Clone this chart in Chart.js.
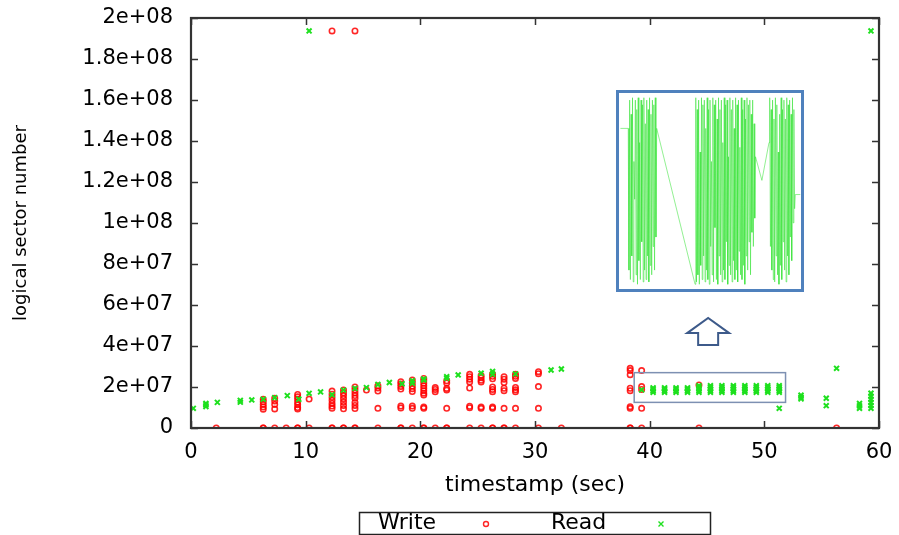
<!DOCTYPE html>
<html>
<head>
<meta charset="utf-8">
<script src="https://cdn.jsdelivr.net/npm/chart.js@4.4.1/dist/chart.umd.min.js"></script>
<style>
  html, body { margin: 0; padding: 0; background: #fff; }
  #wrap { position: relative; width: 899px; height: 535px; }
  #zoomBox { position: absolute; left: 616px; top: 90px; width: 182px; height: 196px;
             border: 3px solid #4f81bd; background: #fff; }
  #zoomBox canvas { display: block; }
</style>
</head>
<body>
<div id="wrap">
  <canvas id="main" width="899" height="535"></canvas>
  <div id="zoomBox"><canvas id="zoom" width="182" height="196"></canvas></div>
</div>
<script>
// --- data (timestamp in sec, logical sector number) ---
const writeT = [
  2.2, 6.3, 6.3, 7.3, 8.3, 9.3, 9.3, 10.3, 12.3, 12.3, 13.3, 13.3, 14.3, 14.3, 16.3, 18.3, 18.3, 19.3,
  20.3, 20.3, 21.3, 22.3, 22.3, 24.3, 25.3, 26.3, 26.3, 27.3, 27.3, 28.3, 30.3, 32.3, 38.3, 38.3, 39.3, 44.3, 56.3,
  6.3, 6.3, 6.3, 6.3, 6.3,
  7.3, 7.3, 7.3, 7.3,
  9.3, 9.3, 9.3, 9.3, 9.3, 9.3, 9.3,
  10.3,
  12.3, 12.3, 12.3, 12.3, 12.3, 12.3, 12.3,
  13.3, 13.3, 13.3, 13.3, 13.3, 13.3, 13.3,
  14.3, 14.3, 14.3, 14.3, 14.3, 14.3, 14.3, 14.3,
  15.3,
  16.3, 16.3, 16.3, 16.3,
  18.3, 18.3, 18.3, 18.3, 18.3, 18.3,
  19.3, 19.3, 19.3, 19.3, 19.3, 19.3, 19.3,
  20.3, 20.3, 20.3, 20.3, 20.3, 20.3, 20.3, 20.3, 20.3, 20.3,
  21.3, 21.3, 21.3,
  22.3, 22.3, 22.3, 22.3, 22.3,
  24.3, 24.3, 24.3, 24.3, 24.3, 24.3, 24.3,
  25.3, 25.3, 25.3, 25.3, 25.3, 25.3,
  26.3, 26.3, 26.3, 26.3, 26.3, 26.3, 26.3, 26.3,
  27.3, 27.3, 27.3, 27.3, 27.3, 27.3,
  28.3, 28.3, 28.3, 28.3, 28.3, 28.3, 28.3,
  30.3, 30.3, 30.3, 30.3,
  38.3, 38.3, 38.3, 38.3, 38.3, 38.3, 38.3,
  39.3, 39.3, 39.3, 39.3,
  44.3,
  12.3, 14.3
];
const writeV = [
  0, 0, 0, 0, 0, 0, 0, 0, 0, 0, 0, 0, 0, 0, 0, 0, 0, 0,
  0, 0, 0, 0, 0, 0, 0, 0, 0, 0, 0, 0, 0, 0, 0, 0, 0, 0, 0,
  14.0e6, 12.8e6, 11.5e6, 10.3e6, 9.2e6,
  14.5e6, 13.2e6, 11.5e6, 9.3e6,
  16.4e6, 15.2e6, 14.0e6, 12.6e6, 11.3e6, 10.0e6, 9.3e6,
  14.1e6,
  18.0e6, 16.5e6, 15.0e6, 13.5e6, 12.0e6, 10.7e6, 9.6e6,
  18.5e6, 17.2e6, 15.8e6, 14.3e6, 12.7e6, 11.0e6, 9.4e6,
  20.0e6, 18.6e6, 17.2e6, 15.8e6, 14.5e6, 12.5e6, 11.0e6, 9.5e6,
  18.5e6,
  20.6e6, 19.5e6, 18.0e6, 9.6e6,
  22.6e6, 21.5e6, 20.3e6, 19.0e6, 10.7e6, 9.8e6,
  23.4e6, 22.0e6, 20.5e6, 19.2e6, 17.8e6, 10.7e6, 9.6e6,
  24.2e6, 23.0e6, 21.8e6, 20.6e6, 19.4e6, 18.2e6, 17.0e6, 16.1e6, 10.2e6, 9.6e6,
  19.7e6, 18.8e6, 17.7e6,
  23.0e6, 22.0e6, 19.3e6, 18.5e6, 9.6e6,
  26.2e6, 25.0e6, 23.8e6, 22.5e6, 19.5e6, 10.6e6, 9.9e6,
  25.6e6, 24.5e6, 23.3e6, 22.4e6, 10.3e6, 9.6e6,
  26.3e6, 25.2e6, 24.0e6, 20.0e6, 18.8e6, 17.7e6, 10.3e6, 9.6e6,
  25.0e6, 23.8e6, 22.2e6, 19.4e6, 18.2e6, 9.6e6,
  26.2e6, 25.2e6, 24.2e6, 19.8e6, 18.6e6, 17.7e6, 9.6e6,
  27.5e6, 26.5e6, 20.2e6, 9.6e6,
  29.1e6, 28.0e6, 26.0e6, 19.4e6, 18.2e6, 10.4e6, 9.6e6,
  28.0e6, 20.2e6, 18.8e6, 9.6e6,
  21.0e6,
  193.7e6, 193.7e6
];

const readT = [
  0.2, 1.3, 1.3, 1.3, 2.3, 4.3, 4.3, 5.3, 6.3, 7.3, 8.4, 9.4, 10.3, 11.3, 12.3, 13.3, 14.3, 15.3,
  16.3, 17.3, 18.4, 19.3, 19.3, 20.3, 20.3, 22.3, 22.3, 23.3, 25.3, 26.3, 26.3, 28.3, 31.4, 32.3,
  39.3,
  40.3, 40.3, 40.3, 40.3, 41.3, 41.3, 41.3, 41.3, 42.3, 42.3, 42.3, 42.3, 43.3, 43.3, 43.3, 43.3,
  44.3, 44.3, 44.3, 44.3, 44.3, 45.3, 45.3, 45.3, 45.3, 45.3, 46.3, 46.3, 46.3, 46.3, 46.3,
  47.3, 47.3, 47.3, 47.3, 47.3, 48.3, 48.3, 48.3, 48.3, 48.3, 49.3, 49.3, 49.3, 49.3, 49.3,
  50.3, 50.3, 50.3, 50.3, 50.3, 51.3, 51.3, 51.3, 51.3, 51.3, 51.3,
  53.2, 53.2, 53.2, 55.4, 55.4, 56.3, 58.3, 58.3, 58.3,
  59.3, 59.3, 59.3, 59.3, 59.3, 59.3,
  10.3, 59.3
];
const readV = [
  9.6e6, 10.5e6, 11.3e6, 12.0e6, 12.5e6, 12.6e6, 13.5e6, 13.7e6, 14.0e6, 14.8e6, 15.8e6, 14.0e6,
  16.9e6, 17.6e6, 16.2e6, 18.5e6, 19.3e6, 19.7e6,
  21.2e6, 22.2e6, 21.6e6, 23.1e6, 21.8e6, 23.9e6, 23.4e6, 25.0e6, 24.2e6, 25.9e6, 26.7e6, 27.6e6, 26.2e6,
  26.4e6, 28.3e6, 28.8e6,
  18.6e6,
  17.4e6, 18.2e6, 19.0e6, 19.6e6, 17.4e6, 18.2e6, 19.0e6, 19.6e6, 17.4e6, 18.2e6, 19.0e6, 19.6e6,
  17.4e6, 18.2e6, 19.0e6, 19.6e6,
  17.4e6, 18.2e6, 19.0e6, 19.8e6, 20.6e6, 17.4e6, 18.2e6, 19.0e6, 19.8e6, 20.6e6,
  17.4e6, 18.2e6, 19.0e6, 19.8e6, 20.6e6, 17.4e6, 18.2e6, 19.0e6, 19.8e6, 20.6e6,
  17.4e6, 18.2e6, 19.0e6, 19.8e6, 20.6e6, 17.4e6, 18.2e6, 19.0e6, 19.8e6, 20.6e6,
  17.4e6, 18.2e6, 19.0e6, 19.8e6, 20.6e6, 17.4e6, 18.2e6, 19.0e6, 19.8e6, 20.6e6, 9.6e6,
  16.0e6, 15.0e6, 14.2e6, 14.5e6, 10.9e6, 29.1e6, 12.0e6, 10.8e6, 9.6e6,
  17.0e6, 15.5e6, 14.0e6, 12.5e6, 11.0e6, 9.6e6,
  193.7e6, 193.7e6
];

// zoomed-in read trace (inset), sector in units of 1e6
const insetT = [
  39.00,
  39.55, 39.60, 39.65, 39.70, 39.75, 39.80, 39.85, 39.90, 39.95, 40.00, 40.05, 40.10, 40.15, 40.20,
  40.25, 40.30, 40.35, 40.40, 40.45, 40.50, 40.55, 40.60, 40.65, 40.70, 40.75, 40.80, 40.85, 40.90,
  40.95, 41.00, 41.05, 41.10, 41.15, 41.20, 41.25, 41.30, 41.35, 41.40, 41.45, 41.50, 41.55,
  44.25,
  44.30, 44.35, 44.40, 44.45, 44.50, 44.55, 44.60, 44.65, 44.70, 44.75, 44.80, 44.85, 44.90, 44.95,
  45.00, 45.05, 45.10, 45.15, 45.20, 45.25, 45.30, 45.35, 45.40, 45.45, 45.50, 45.55, 45.60, 45.65,
  45.70, 45.75, 45.80, 45.85, 45.90, 45.95, 46.00, 46.05, 46.10, 46.15, 46.20, 46.25, 46.30, 46.35,
  46.40, 46.45, 46.50, 46.55, 46.60, 46.65, 46.70, 46.75, 46.80, 46.85, 46.90, 46.95, 47.00, 47.05,
  47.10, 47.15, 47.20, 47.25, 47.30, 47.35, 47.40, 47.45, 47.50, 47.55, 47.60, 47.65, 47.70, 47.75,
  47.80, 47.85, 47.90, 47.95, 48.00, 48.05, 48.10, 48.15, 48.20, 48.25, 48.30, 48.35, 48.40, 48.45,
  48.50,
  48.95, 49.45,
  49.50, 49.55, 49.60, 49.65, 49.70, 49.75, 49.80, 49.85, 49.90, 49.95, 50.00, 50.05, 50.10, 50.15,
  50.20, 50.25, 50.30, 50.35, 50.40, 50.45, 50.50, 50.55, 50.60, 50.65, 50.70, 50.75, 50.80, 50.85,
  50.90, 50.95, 51.00, 51.05, 51.10, 51.15, 51.20, 51.25, 51.30, 51.65
];
const insetV = [
  20.3,
  20.3, 17.3, 20.9, 17.1, 20.6, 17.6, 20.95, 17.05, 19.6, 18.8, 20.9, 17.2, 20.7, 17.0,
  20.95, 17.5, 20.0, 17.1, 20.9, 17.9, 20.8, 17.05, 20.95, 17.3, 20.4, 17.1, 20.9, 17.6,
  20.7, 17.05, 20.95, 17.4, 20.6, 17.2, 20.9, 17.8, 20.8, 17.3, 20.95, 18.0, 20.3,
  17.0,
  20.95, 17.05, 20.7, 17.2, 20.9, 17.0, 19.8, 17.4, 20.95, 17.1, 20.8, 17.6, 20.9, 17.05,
  20.3, 17.3, 20.95, 17.1, 20.7, 17.0, 20.9, 17.8, 19.6, 17.2, 20.95, 17.05, 20.8, 18.2,
  20.9, 17.1, 20.5, 17.0, 20.95, 17.6, 20.7, 17.2, 20.9, 17.05, 20.0, 17.3, 20.95, 17.1,
  20.8, 17.9, 20.9, 17.0, 19.7, 17.4, 20.95, 17.2, 20.7, 17.05, 20.9, 17.5, 20.3, 17.1,
  20.95, 17.3, 20.8, 17.05, 20.9, 17.7, 19.9, 17.2, 20.95, 17.1, 20.7, 17.4, 20.9, 17.0,
  20.5, 17.6, 20.95, 17.3, 20.8, 17.9, 20.9, 17.2, 20.6, 18.1, 20.9, 17.8, 20.4, 18.4,
  19.7,
  19.2, 20.0,
  20.95, 17.8, 20.7, 17.3, 20.9, 17.1, 20.5, 17.05, 20.95, 17.6, 20.8, 17.2, 19.8, 17.0,
  20.6, 17.4, 20.95, 17.1, 20.7, 17.9, 20.9, 17.3, 20.5, 17.05, 20.95, 17.6, 20.8, 17.2,
  20.9, 18.0, 20.6, 17.5, 20.95, 18.3, 20.7, 18.6, 18.9, 18.9
];

const xTicks = [0, 10, 20, 30, 40, 50, 60];
const yTicks = [0, 2e7, 4e7, 6e7, 8e7, 1e8, 1.2e8, 1.4e8, 1.6e8, 1.8e8, 2e8];

const FONT = '"DejaVu Sans", sans-serif';
const RED = 'rgba(255,0,0,0.85)';
const GREEN = '#1ee01e';

function toPoints(xs, ys) {
  return xs.map((x, i) => ({ x: x, y: ys[i] }));
}

function fmtSci(v) {
  if (v === 0) return '0';
  return v.toExponential().replace(/e\+(\d)$/, 'e+0$1');
}

// frame, inward ticks, highlight box, arrow and legend, gnuplot style
const decorPlugin = {
  id: 'decor',
  afterDraw(chart) {
    const { ctx, chartArea: a, scales: { x, y } } = chart;
    ctx.save();

    ctx.strokeStyle = '#333';
    ctx.lineWidth = 1.5;
    ctx.beginPath();
    yTicks.forEach(v => {
      const py = Math.round(y.getPixelForValue(v)) + 0.5;
      ctx.moveTo(a.left, py); ctx.lineTo(a.left + 7, py);
      ctx.moveTo(a.right, py); ctx.lineTo(a.right - 7, py);
    });
    xTicks.forEach(v => {
      const px = Math.round(x.getPixelForValue(v)) + 0.5;
      ctx.moveTo(px, a.bottom); ctx.lineTo(px, a.bottom - 7);
      ctx.moveTo(px, a.top); ctx.lineTo(px, a.top + 7);
    });
    ctx.stroke();

    ctx.lineWidth = 2.2;
    ctx.strokeRect(a.left, a.top, a.right - a.left, a.bottom - a.top);

    // box round the zoomed region
    const bx0 = x.getPixelForValue(38.65), bx1 = x.getPixelForValue(51.85);
    const by0 = y.getPixelForValue(27.0e6), by1 = y.getPixelForValue(12.5e6);
    ctx.strokeStyle = '#7d90b2';
    ctx.lineWidth = 1.5;
    ctx.strokeRect(bx0, by0, bx1 - bx0, by1 - by0);

    // hollow up arrow
    const ax = x.getPixelForValue(45.1);
    const aBase = y.getPixelForValue(40.5e6);
    const aNeck = y.getPixelForValue(46.3e6);
    const aTip = y.getPixelForValue(53.7e6);
    ctx.beginPath();
    ctx.moveTo(ax - 10, aBase);
    ctx.lineTo(ax - 10, aNeck);
    ctx.lineTo(ax - 21, aNeck);
    ctx.lineTo(ax, aTip);
    ctx.lineTo(ax + 21, aNeck);
    ctx.lineTo(ax + 10, aNeck);
    ctx.lineTo(ax + 10, aBase);
    ctx.closePath();
    ctx.fillStyle = '#fff';
    ctx.fill();
    ctx.strokeStyle = '#3d5a8a';
    ctx.lineWidth = 2;
    ctx.stroke();

    // legend
    ctx.strokeStyle = '#222';
    ctx.lineWidth = 1.5;
    ctx.strokeRect(359.5, 512.5, 351, 22);
    ctx.fillStyle = '#000';
    ctx.font = '22px ' + FONT;
    ctx.textBaseline = 'middle';
    ctx.textAlign = 'left';
    ctx.fillText('Write', 378, 523);
    ctx.fillText('Read', 551, 523);
    ctx.beginPath();
    ctx.arc(486, 524, 2.5, 0, Math.PI * 2);
    ctx.strokeStyle = RED;
    ctx.lineWidth = 1.4;
    ctx.stroke();
    ctx.beginPath();
    ctx.moveTo(658.5, 521.5); ctx.lineTo(663.5, 526.5);
    ctx.moveTo(663.5, 521.5); ctx.lineTo(658.5, 526.5);
    ctx.strokeStyle = GREEN;
    ctx.stroke();

    ctx.restore();
  }
};

new Chart(document.getElementById('main'), {
  type: 'scatter',
  data: {
    datasets: [
      {
        label: 'Read',
        data: toPoints(readT, readV),
        pointStyle: 'crossRot',
        pointRadius: 3.5,
        borderColor: GREEN,
        borderWidth: 2
      },
      {
        label: 'Write',
        data: toPoints(writeT, writeV),
        pointStyle: 'circle',
        pointRadius: 2.7,
        borderColor: RED,
        backgroundColor: 'rgba(0,0,0,0)',
        borderWidth: 1.6
      }
    ]
  },
  options: {
    responsive: false,
    animation: false,
    layout: { padding: { top: 18, right: 20, bottom: 0, left: 0 } },
    plugins: { legend: { display: false }, tooltip: { enabled: false } },
    scales: {
      x: {
        type: 'linear',
        min: 0, max: 60,
        afterFit(s) { s.height = 107; s.paddingLeft = 0; s.paddingRight = 0; },
        afterBuildTicks(s) { s.ticks = xTicks.map(v => ({ value: v })); },
        grid: { display: false, drawTicks: false },
        border: { display: false },
        ticks: { padding: 12, color: '#000', font: { family: FONT, size: 21 } },
        title: {
          display: true, text: 'timestamp (sec)', color: '#000',
          font: { family: FONT, size: 22 }, padding: { top: 0, bottom: 37 }
        }
      },
      y: {
        type: 'linear',
        min: 0, max: 2e8,
        afterFit(s) { s.width = 191; s.paddingTop = 0; s.paddingBottom = 0; },
        afterBuildTicks(s) { s.ticks = yTicks.map(v => ({ value: v })); },
        grid: { display: false, drawTicks: false },
        border: { display: false },
        ticks: {
          padding: 18, color: '#000', font: { family: FONT, size: 21 },
          callback: v => fmtSci(v)
        },
        title: {
          display: true, text: 'logical sector number', color: '#000',
          font: { family: FONT, size: 18 }, padding: { top: 11, bottom: 0 }
        }
      }
    }
  },
  plugins: [decorPlugin]
});

// inset: zoomed view of the read trace
new Chart(document.getElementById('zoom'), {
  type: 'line',
  data: {
    datasets: [{
      data: toPoints(insetT, insetV),
      borderColor: 'rgba(40,225,40,0.5)',
      borderWidth: 1,
      pointRadius: 0,
      tension: 0
    }]
  },
  options: {
    responsive: false,
    animation: false,
    layout: { padding: 0 },
    plugins: { legend: { display: false }, tooltip: { enabled: false } },
    scales: {
      x: { type: 'linear', min: 38.9, max: 51.7, display: false },
      y: { type: 'linear', min: 16.9, max: 21.05, display: false }
    }
  }
});
</script>
</body>
</html>
